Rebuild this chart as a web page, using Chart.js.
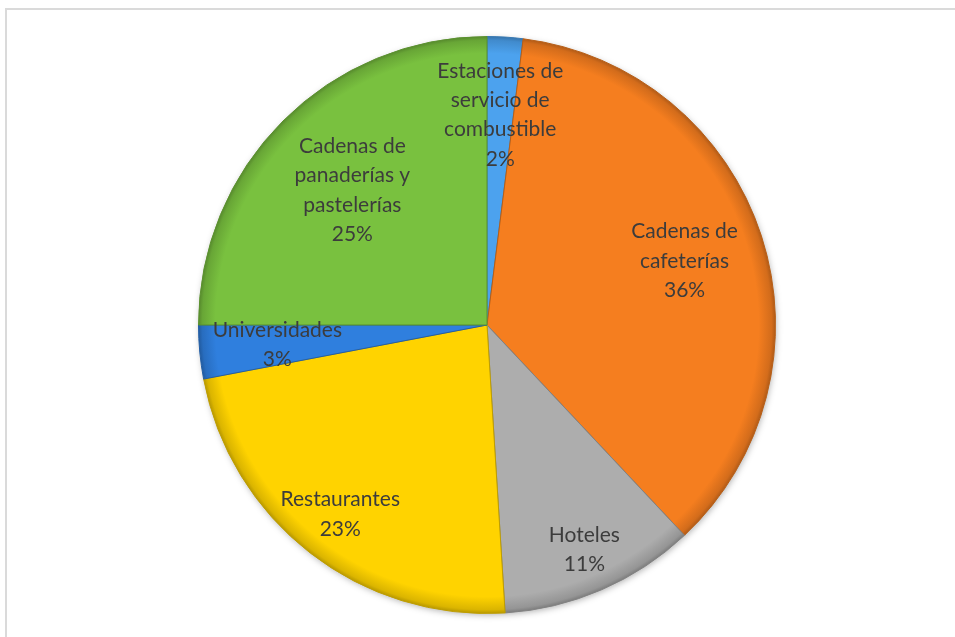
<!DOCTYPE html>
<html>
<head>
<meta charset="utf-8">
<script src="https://cdn.jsdelivr.net/npm/chart.js@4.4.1/dist/chart.umd.min.js"></script>
<style>
  html, body { margin: 0; padding: 0; background: #fff; overflow: hidden; }
  #frame { position: absolute; left: 5px; top: 8px; width: 1000px; height: 700px; border: 2px solid #dadada; }
  #wrap { position: absolute; left: 0; top: 0; width: 955px; height: 637px; }
</style>
</head>
<body>
<div id="frame"></div>
<div id="wrap"><canvas id="pie" width="955" height="637"></canvas></div>
<script>
const categories = [
  'Estaciones de servicio de combustible',
  'Cadenas de cafeterías',
  'Hoteles',
  'Restaurantes',
  'Universidades',
  'Cadenas de panaderías y pastelerías'
];
const shares = [2, 36, 11, 23, 3, 25];
const labelLines = [
  ['Estaciones de', 'servicio de', 'combustible'],
  ['Cadenas de', 'cafeterías'],
  ['Hoteles'],
  ['Restaurantes'],
  ['Universidades'],
  ['Cadenas de', 'panaderías y', 'pastelerías']
];
const sliceColors = ['#4CA2EE', '#F57E1F', '#ADADAD', '#FFD300', '#2F7FDE', '#79C13F'];
// how far out along the slice middle each label sits (fraction of radius)
const labelDepth = [0.73, 0.72, 0.85, 0.83, 0.73, 0.66];

function shade(hex, amt) {
  const n = parseInt(hex.slice(1), 16);
  const f = c => Math.max(0, Math.min(255, Math.round(c * (1 - amt))));
  return `rgb(${f(n >> 16)}, ${f((n >> 8) & 255)}, ${f(n & 255)})`;
}

function sliceFill(ctx) {
  const chart = ctx.chart;
  const base = sliceColors[ctx.dataIndex];
  const area = chart.chartArea;
  if (!area) return base;
  const cx = (area.left + area.right) / 2;
  const cy = (area.top + area.bottom) / 2;
  const r = Math.min(area.right - area.left, area.bottom - area.top) / 2;
  const g = chart.ctx.createRadialGradient(cx, cy, 0, cx, cy, r);
  g.addColorStop(0, base);
  g.addColorStop(0.94, base);
  g.addColorStop(0.985, shade(base, 0.14));
  g.addColorStop(1, shade(base, 0.3));
  return g;
}

// soft drop shadow under the whole pie
const pieShadow = {
  id: 'pieShadow',
  beforeDatasetsDraw(chart) {
    const arc = chart.getDatasetMeta(0).data[0];
    if (!arc) return;
    const { x, y, outerRadius } = arc.getProps(['x', 'y', 'outerRadius'], true);
    const c = chart.ctx;
    c.save();
    c.shadowColor = 'rgba(0,0,0,0.35)';
    c.shadowBlur = 7;
    c.shadowOffsetX = 1;
    c.shadowOffsetY = 2;
    c.fillStyle = '#888';
    c.beginPath();
    c.arc(x, y, outerRadius - 1, 0, Math.PI * 2);
    c.fill();
    c.restore();
  }
};

// category name + percentage inside each slice
const sliceLabels = {
  id: 'sliceLabels',
  afterDatasetsDraw(chart) {
    const c = chart.ctx;
    const total = shares.reduce((a, b) => a + b, 0);
    const lineH = 29.3;
    c.save();
    c.font = '21px Lato, "Liberation Sans", sans-serif';
    c.fillStyle = '#3c3c3c';
    c.textAlign = 'center';
    c.textBaseline = 'middle';
    chart.getDatasetMeta(0).data.forEach((arc, i) => {
      const { x, y, startAngle, endAngle, outerRadius } =
        arc.getProps(['x', 'y', 'startAngle', 'endAngle', 'outerRadius'], true);
      const mid = (startAngle + endAngle) / 2;
      const px = x + Math.cos(mid) * outerRadius * labelDepth[i];
      const py = y + Math.sin(mid) * outerRadius * labelDepth[i];
      const lines = labelLines[i].concat(Math.round(shares[i] / total * 100) + '%');
      const top = py - (lines.length - 1) * lineH / 2;
      lines.forEach((t, k) => c.fillText(t, px, top + k * lineH));
    });
    c.restore();
  }
};

new Chart(document.getElementById('pie'), {
  type: 'pie',
  data: {
    labels: categories,
    datasets: [{
      data: shares,
      backgroundColor: sliceFill,
      borderColor: sliceColors.map(col => shade(col, 0.25)),
      borderWidth: 1
    }]
  },
  options: {
    responsive: false,
    animation: false,
    layout: { padding: { top: 36, bottom: 23, left: 19, right: 0 } },
    plugins: {
      legend: { display: false },
      tooltip: { enabled: false }
    }
  },
  plugins: [pieShadow, sliceLabels]
});
</script>
</body>
</html>
